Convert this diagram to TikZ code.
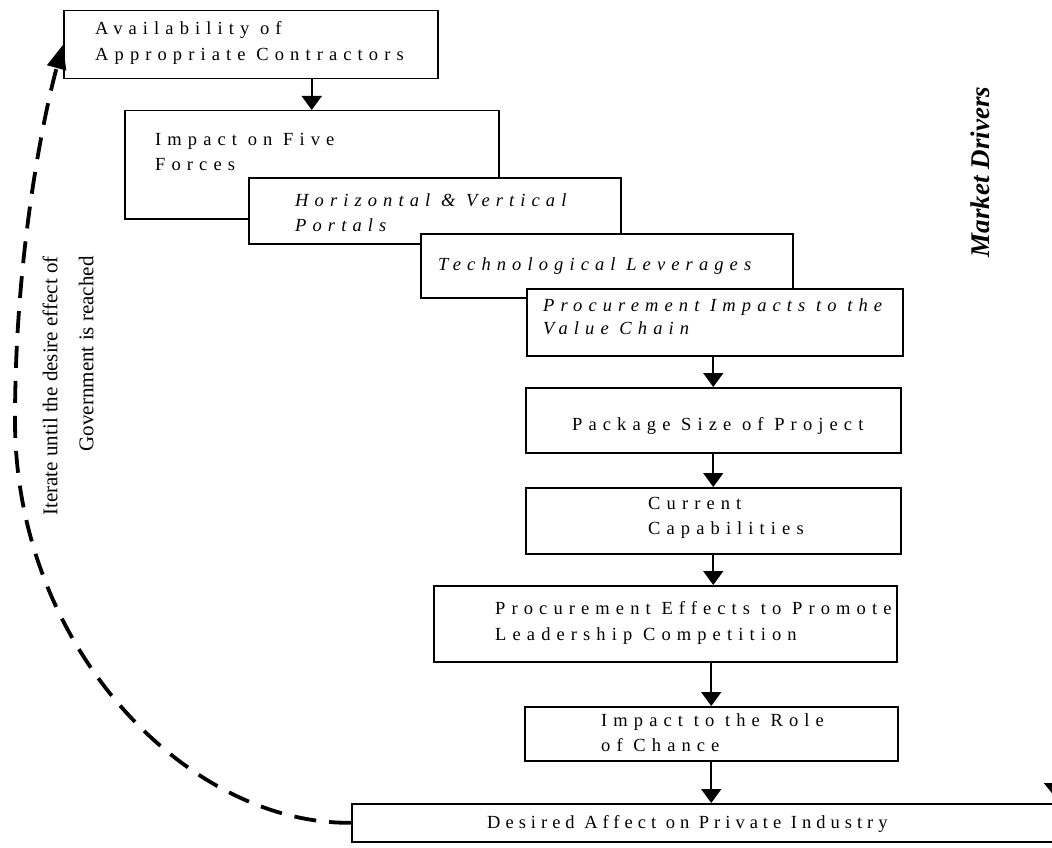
\documentclass[tikz,border=0pt]{standalone}
\usepackage{fontspec}
\setmainfont{Liberation Serif}
\newfontfamily\tracked[LetterSpace=33]{Liberation Serif}
\newfontfamily\trackedJ[LetterSpace=27]{Liberation Serif}
\usetikzlibrary{arrows.meta}
\begin{document}
\begin{tikzpicture}[x=1pt,y=-1pt,
  box/.style={draw=black,fill=white,line width=1.5pt,inner sep=0pt,anchor=north west},
  lbl/.style={anchor=base west,inner sep=0pt,font=\fontsize{18.5}{20}\selectfont\tracked},
  ilbl/.style={lbl,font=\fontsize{18.5}{20}\selectfont\tracked\itshape},
  arr/.style={line width=1.6pt,-{Triangle[width=20pt,length=14pt]}},
  loop/.style={line width=3.8pt,dash pattern=on 22pt off 13pt,-{Triangle[width=19pt,length=24pt]}}]
\useasboundingbox (0,0) rectangle (1052,848);
\clip (0,0) rectangle (1052,848);
\fill[white] (0,0) rectangle (1052,848);
% boxes
\node[box,minimum width=374pt,minimum height=68pt] (A) at (63,10) {};
\node[box,minimum width=374pt,minimum height=108pt] (B) at (124,110) {};
\node[box,minimum width=372pt,minimum height=66pt] (C) at (248,177) {};
\node[box,minimum width=372pt,minimum height=64pt] (D) at (420,233) {};
\node[box,minimum width=376pt,minimum height=67pt] (E) at (526,288) {};
\node[box,minimum width=375pt,minimum height=65pt] (F) at (525,387) {};
\node[box,minimum width=375pt,minimum height=66pt] (G) at (525,487) {};
\node[box,minimum width=463pt,minimum height=76pt] (H) at (433,585) {};
\node[box,minimum width=373pt,minimum height=54pt] (I) at (524,706) {};
\node[box,minimum width=720pt,minimum height=38pt] (J) at (351,803) {};
% texts
\node[lbl] (tA1) at (95,35) {Availability of};
\node[lbl] (tA2) at (95,61) {Appropriate Contractors};
\node[lbl] (tB1) at (155,146) {Impact on Five};
\node[lbl] (tB2) at (155,171) {Forces};
\node[ilbl] (tC1) at (295,206) {Horizontal \& Vertical};
\node[ilbl] (tC2) at (295,231) {Portals};
\node[ilbl] (tD1) at (438,270) {Technological Leverages};
\node[ilbl] (tE1) at (543,311) {Procurement Impacts to the};
\node[ilbl] (tE2) at (543,334) {Value Chain};
\node[lbl] (tF1) at (572,430) {Package Size of Project};
\node[lbl] (tG1) at (648,509) {Current};
\node[lbl] (tG2) at (648,534) {Capabilities};
\node[lbl] (tH1) at (495,614) {Procurement Effects to Promote};
\node[lbl] (tH2) at (495,640) {Leadership Competition};
\node[lbl] (tI1) at (601,726) {Impact to the Role};
\node[lbl] (tI2) at (601,751) {of Chance};
\node[lbl,font=\fontsize{18.5}{20}\selectfont\trackedJ] (tJ1) at (487,828) {Desired Affect on Private Industry};
% side labels
\node[rotate=90,align=right,inner sep=0pt,font=\fontsize{21}{36}\selectfont] (iter) at (68,386)
  {Iterate until the desire effect of\\Government is reached};
\node[rotate=90,inner sep=0pt,font=\fontsize{27}{32}\selectfont\bfseries\itshape] (md) at (980,172) {Market Drivers};
% arrows
\draw[arr] (A.south -| B.north) -- (B.north);
\draw[arr] (E.south -| F.north) -- (F.north);
\draw[arr] (F.south) -- (G.north);
\draw[arr] (G.south) -- (G.south |- H.north);
\draw[arr] (H.south -| I.north) -- (I.north);
\draw[arr] (I.south) -- (I.south |- J.north);
\coordinate (rt1) at (1055,730);
\coordinate (rt2) at (1055,797);
\draw[arr,-{Triangle[width=22pt,length=14pt]}] (rt1) -- (rt2);
% feedback loop
\draw[loop] (J.west) .. controls (190,825) and (15,650) .. (15,420)
  .. controls (15,250) and (45,110) .. (A.west);
\end{tikzpicture}
\end{document}
